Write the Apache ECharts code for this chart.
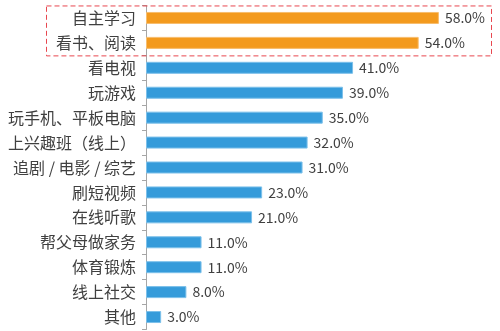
<!DOCTYPE html>
<html><head><meta charset="utf-8">
<script src="https://cdn.jsdelivr.net/npm/echarts@6/dist/echarts.min.js"></script>
<style>html,body{margin:0;padding:0;background:#fff}#c{width:500px;height:331px}</style>
</head><body><div id="c"></div>
<script>
var categories = ['自主学习','看书、阅读','看电视','玩游戏','玩手机、平板电脑','上兴趣班（线上）','追剧 / 电影 / 综艺','刷短视频','在线听歌','帮父母做家务','体育锻炼','线上社交','其他'];
var values = [58,54,41,39,35,32,31,23,21,11,11,8,3];
var highlightCount = 2;

var chart = echarts.init(document.getElementById('c'), null, {renderer:'canvas'});
var font = '"Noto Sans CJK SC", "Noto Sans", sans-serif';
var option = {
  animation:false,
  grid:{left:146, top:5.5, width:303, height:324, containLabel:false},
  xAxis:{type:'value', min:0, max:60, show:false},
  yAxis:{type:'category', inverse:true, data:categories,
    axisLine:{show:true, lineStyle:{color:'#a6a6a6', width:1}},
    axisTick:{show:true, length:4, lineStyle:{color:'#a6a6a6'}},
    axisLabel:{color:'#404040', fontSize:16, fontFamily:font, margin:10}
  },
  series:[{type:'bar', barWidth:12,
    data: values.map(function(v,i){
      return {value:v, itemStyle:{color: i<highlightCount ? '#F39A1E' : '#359BDA',
        borderColor: i<highlightCount ? '#F8BE6E' : '#7CC0EA', borderWidth:1}};
    }),
    label:{show:true, position:'right', distance:6, color:'#404040', fontSize:14, fontFamily:font,
      formatter:function(p){return p.value.toFixed(1)+'%';}}
  }]
};
chart.setOption(option);
var p0 = chart.convertToPixel({gridIndex:0}, [0, 0]);
var p1 = chart.convertToPixel({gridIndex:0}, [0, highlightCount-1]);
var band = 25;
chart.setOption({graphic:[{type:'rect', shape:{x:46.5, y:p0[1]-band/2+0.5, width:445, height:(p1[1]-p0[1])+band}, 
  style:{fill:'none', stroke:'#E8474F', lineWidth:1, lineDash:[5,3]}, z:10}]});
</script></body></html>
